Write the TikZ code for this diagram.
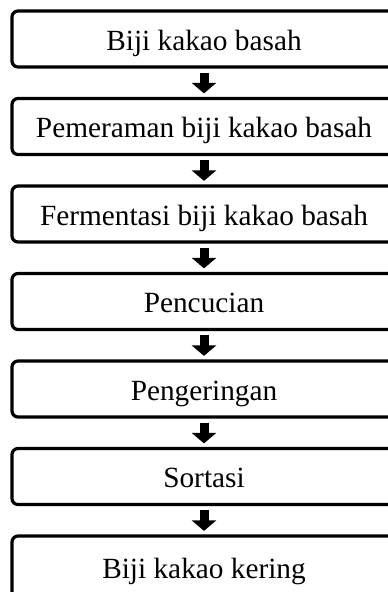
\documentclass[tikz,border=0pt]{standalone}
\usepackage{fontspec}
\setmainfont{Liberation Serif}
\usetikzlibrary{arrows.meta}
\begin{document}
\begin{tikzpicture}[x=1pt,y=-1pt,
  stepbox/.style={draw, line width=3.2pt, rounded corners=6pt, minimum width=384pt,
    minimum height=56pt, inner sep=0pt, text height=22pt, text depth=0pt,
    font=\fontsize{29.3}{34}\selectfont},
  flow/.style={line width=9pt, -{Triangle[width=24pt,length=10.5pt]},
    shorten <=4pt, shorten >=3.5pt}]
\useasboundingbox (0,0) rectangle (388,592);
\node[stepbox] (b1) at (204,39) {Biji kakao basah};
\node[stepbox] (b2) at (204,126.5) {Pemeraman biji kakao basah};
\node[stepbox] (b3) at (204,214) {Fermentasi biji kakao basah};
\node[stepbox] (b4) at (204,301.5) {Pencucian};
\node[stepbox] (b5) at (204,389) {Pengeringan};
\node[stepbox] (b6) at (204,476.5) {Sortasi};
\node[stepbox, minimum height=62pt] (b7) at (204,567) {Biji kakao kering};
\draw[flow] (b1) -- (b2);
\draw[flow] (b2) -- (b3);
\draw[flow] (b3) -- (b4);
\draw[flow] (b4) -- (b5);
\draw[flow] (b5) -- (b6);
\draw[flow] (b6) -- (b7);
\end{tikzpicture}
\end{document}
